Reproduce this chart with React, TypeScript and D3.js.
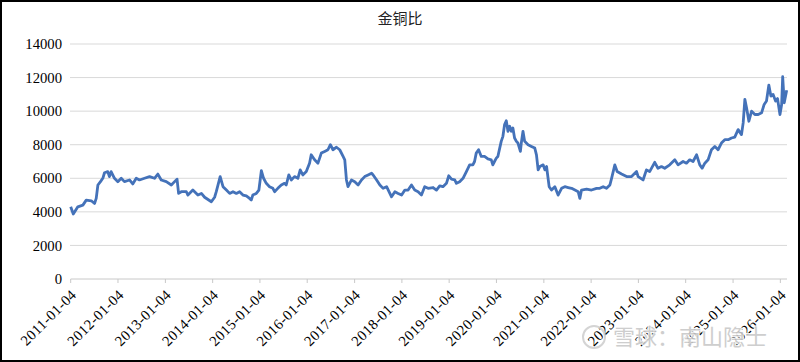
import React from "react";
import * as d3 from "d3";

// 金铜比 (gold / copper ratio)
const dates = [
  "2011-01-04", "2011-01-24", "2011-02-28", "2011-04-08", "2011-05-04", "2011-06-12", "2011-07-07", "2011-07-20",
  "2011-08-02", "2011-08-22", "2011-09-09", "2011-09-22", "2011-10-17", "2011-10-30", "2011-11-12", "2011-12-08",
  "2012-01-03", "2012-01-29", "2012-02-23", "2012-04-02", "2012-04-27", "2012-05-24", "2012-06-18", "2012-07-27",
  "2012-09-04", "2012-10-12", "2012-11-07", "2012-12-03", "2013-01-11", "2013-02-19", "2013-03-16", "2013-04-04",
  "2013-04-16", "2013-05-07", "2013-06-15", "2013-06-27", "2013-08-04", "2013-09-12", "2013-10-09", "2013-11-03",
  "2013-12-25", "2014-01-19", "2014-02-01", "2014-03-03", "2014-03-25", "2014-04-20", "2014-05-15", "2014-06-10",
  "2014-07-06", "2014-07-31", "2014-08-26", "2014-09-21", "2014-10-16", "2014-10-29", "2014-11-10", "2014-12-07",
  "2014-12-27", "2015-01-15", "2015-02-01", "2015-02-22", "2015-03-19", "2015-04-14", "2015-04-27", "2015-05-22",
  "2015-06-18", "2015-07-13", "2015-07-26", "2015-08-15", "2015-09-03", "2015-09-28", "2015-10-24", "2015-11-11",
  "2015-12-01", "2015-12-28", "2016-01-22", "2016-02-04", "2016-03-01", "2016-03-27", "2016-04-22", "2016-05-18",
  "2016-06-12", "2016-07-01", "2016-07-21", "2016-08-17", "2016-09-11", "2016-10-07", "2016-10-20", "2016-11-02",
  "2016-11-14", "2016-12-11", "2017-01-05", "2017-01-31", "2017-02-26", "2017-03-23", "2017-04-18", "2017-05-15",
  "2017-05-27", "2017-06-23", "2017-07-18", "2017-08-12", "2017-09-08", "2017-10-03", "2017-10-16", "2017-11-11",
  "2017-12-06", "2018-01-02", "2018-01-27", "2018-02-21", "2018-03-19", "2018-04-13", "2018-05-09", "2018-06-04",
  "2018-06-29", "2018-07-25", "2018-09-02", "2018-09-28", "2018-10-23", "2018-11-17", "2018-12-14", "2019-01-01",
  "2019-01-22", "2019-02-16", "2019-03-01", "2019-03-26", "2019-04-21", "2019-05-17", "2019-06-11", "2019-07-06",
  "2019-07-19", "2019-08-01", "2019-08-19", "2019-09-09", "2019-10-04", "2019-10-30", "2019-11-25", "2019-12-07",
  "2019-12-20", "2020-01-03", "2020-01-15", "2020-01-28", "2020-02-10", "2020-02-23", "2020-03-07", "2020-03-20",
  "2020-04-02", "2020-04-15", "2020-04-28", "2020-05-10", "2020-05-23", "2020-06-06", "2020-06-18", "2020-07-07",
  "2020-07-14", "2020-07-27", "2020-08-09", "2020-09-04", "2020-09-30", "2020-10-26", "2020-11-08", "2020-11-21",
  "2020-12-04", "2020-12-30", "2021-01-12", "2021-01-25", "2021-02-14", "2021-03-04", "2021-03-30", "2021-04-24",
  "2021-05-21", "2021-06-15", "2021-07-11", "2021-08-06", "2021-09-01", "2021-09-26", "2021-10-09", "2021-10-22",
  "2021-11-30", "2022-01-07", "2022-02-15", "2022-03-12", "2022-04-07", "2022-05-03", "2022-05-29", "2022-06-11",
  "2022-07-06", "2022-07-24", "2022-08-27", "2022-10-05", "2022-11-12", "2022-12-21", "2023-01-02", "2023-02-09",
  "2023-03-07", "2023-04-01", "2023-05-10", "2023-06-04", "2023-07-01", "2023-07-26", "2023-09-03", "2023-10-12",
  "2023-11-06", "2023-12-15", "2024-01-10", "2024-02-04", "2024-03-01", "2024-03-28", "2024-04-22", "2024-05-10",
  "2024-05-31", "2024-06-25", "2024-07-21", "2024-08-16", "2024-09-10", "2024-10-06", "2024-11-01", "2024-11-27",
  "2024-12-23", "2025-01-17", "2025-02-12", "2025-03-10", "2025-03-23", "2025-04-05", "2025-04-18", "2025-05-06",
  "2025-05-27", "2025-06-21", "2025-07-17", "2025-08-12", "2025-09-01", "2025-09-19", "2025-10-07", "2025-10-23",
  "2025-11-09", "2025-11-28", "2025-12-13", "2026-01-01", "2026-01-14", "2026-01-22", "2026-02-03", "2026-02-22",
];

const ratio = [
  4300, 3870, 4300, 4400, 4700, 4660, 4500, 4800,
  5600, 5800, 6000, 6330, 6400, 6100, 6400, 6000,
  5800, 6000, 5800, 5900, 5660, 6000, 5900, 6000,
  6100, 6000, 6250, 5900, 5800, 5600, 5800, 5950,
  5100, 5200, 5200, 5000, 5300, 5000, 5100, 4870,
  4600, 4870, 5200, 6100, 5500, 5300, 5100, 5200,
  5100, 5200, 5000, 4950, 4800, 4700, 5000, 5100,
  5300, 6450, 6000, 5700, 5500, 5400, 5200, 5400,
  5600, 5700, 5600, 6200, 5900, 6100, 6000, 6500,
  6200, 6400, 6900, 7400, 7100, 6900, 7500, 7600,
  7700, 8000, 7700, 7850, 7700, 7300, 7100, 5900,
  5500, 5900, 5800, 5600, 5900, 6100, 6200, 6300,
  6200, 5900, 5600, 5400, 5500, 5100, 4900, 5200,
  5100, 5000, 5300, 5300, 5600, 5300, 5200, 5000,
  5500, 5400, 5450, 5300, 5550, 5500, 5700, 6150,
  5950, 5900, 5700, 5800, 6000, 6400, 6800, 6800,
  7000, 7500, 7700, 7300, 7300, 7150, 7100, 6800,
  7000, 7200, 7300, 7750, 8200, 8500, 9200, 9430,
  8800, 9100, 8800, 9000, 8400, 8200, 8100, 7600,
  8100, 8800, 8200, 8000, 7900, 7800, 7400, 6500,
  6700, 6800, 6500, 6700, 5500, 5300, 5500, 5000,
  5400, 5500, 5450, 5400, 5300, 5200, 4800, 5300,
  5350, 5300, 5400, 5400, 5500, 5400, 5600, 6000,
  6800, 6400, 6250, 6100, 6100, 6400, 6100, 5900,
  6500, 6400, 6950, 6600, 6700, 6600, 6800, 7100,
  6800, 7000, 6900, 7100, 7000, 7400, 6800, 6600,
  6900, 7100, 7700, 7900, 7700, 8100, 8300, 8300,
  8400, 8450, 8900, 8600, 9300, 10700, 10200, 9400,
  10000, 9800, 9800, 9900, 10400, 10600, 11550, 10900,
  11000, 10600, 10750, 9800, 10400, 12050, 10500, 11250,
];

const yTicks = [0, 2000, 4000, 6000, 8000, 10000, 12000, 14000];
const xTickLabels = [
  "2011-01-04", "2012-01-04", "2013-01-04", "2014-01-04", "2015-01-04", "2016-01-04",
  "2017-01-04", "2018-01-04", "2019-01-04", "2020-01-04", "2021-01-04", "2022-01-04",
  "2023-01-04", "2024-01-04", "2025-01-04", "2026-01-04",
];

const W = 800;
const H = 362;
const parse = d3.timeParse("%Y-%m-%d");
const serif = "Liberation Serif, Times New Roman, serif";

export default function App() {
  const points = dates.map((d, i) => ({ date: parse(d) as Date, value: ratio[i] }));

  const x = d3
    .scaleTime()
    .domain([points[0].date, points[points.length - 1].date])
    .range([70.7, 786.7]);
  const y = d3.scaleLinear().domain([0, 14000]).range([279, 44]);

  const line = d3
    .line<{ date: Date; value: number }>()
    .x((d) => x(d.date))
    .y((d) => y(d.value));

  return (
    <svg
      width={W}
      height={H}
      style={{ position: "absolute", left: 0, top: 0, background: "#fff" }}
    >
      <rect x={0} y={0} width={W} height={H} fill="#fff" />

      <text
        x={400}
        y={24}
        textAnchor="middle"
        fontSize={15}
        fontFamily="Noto Sans CJK SC, sans-serif"
        fill="#222"
      >
        金铜比
      </text>

      {/* grid + y labels */}
      {yTicks.map((t) => (
        <g key={t}>
          {t > 0 && (
            <line x1={70} x2={787} y1={y(t)} y2={y(t)} stroke="#d9d9d9" strokeWidth={1} />
          )}
          <text
            x={62}
            y={y(t)}
            dy="0.35em"
            textAnchor="end"
            fontSize={14.7}
            fontFamily={serif}
            fill="#000"
          >
            {t}
          </text>
        </g>
      ))}

      {/* x axis */}
      <line x1={70.7} x2={787} y1={279} y2={279} stroke="#c8c8c8" strokeWidth={1} />
      {xTickLabels.map((lab) => {
        const tx = x(parse(lab) as Date);
        return (
          <g key={lab}>
            <line x1={tx} x2={tx} y1={279} y2={283} stroke="#c8c8c8" strokeWidth={1} />
            <text
              transform={`translate(${tx + 3},${292}) rotate(-45)`}
              textAnchor="end"
              dy="0.35em"
              fontSize={14.7}
              letterSpacing={0.4}
              fontFamily={serif}
              fill="#000"
            >
              {lab}
            </text>
          </g>
        );
      })}

      <path
        d={line(points) ?? ""}
        fill="none"
        stroke="#4472b9"
        strokeWidth={2.8}
        strokeLinejoin="round"
      />

      {/* watermark */}
      <g opacity={0.9}>
        <circle cx={594} cy={337} r={11} fill="none" stroke="#d0d0d0" strokeWidth={2} />
        <text
          x={613}
          y={345}
          fontSize={22}
          fontFamily="Noto Sans CJK SC, sans-serif"
          fill="#c9c9c9"
          stroke="#fff"
          strokeWidth={2}
          style={{ paintOrder: "stroke" }}
        >
          雪球：南山隐士
        </text>
      </g>

      <rect x={1} y={1} width={W - 2} height={H - 2} fill="none" stroke="#000" strokeWidth={2} />
    </svg>
  );
}
